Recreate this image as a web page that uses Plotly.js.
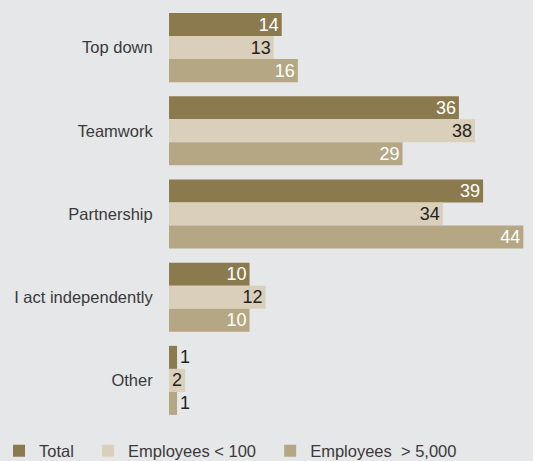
<!DOCTYPE html>
<html>
<head>
<meta charset="utf-8">
<script src="https://cdn.plot.ly/plotly-3.0.1.min.js"></script>
<style>html,body{margin:0;padding:0;background:#e6e7e9;}#chart{width:533px;height:461px;}</style>
</head>
<body>
<div id="chart"></div>
<script>
const categories = ["Top down", "Teamwork", "Partnership", "I act independently", "Other"];
const seriesNames = ["Total\u00a0\u00a0", "Employees &lt; 100\u00a0\u00a0", "Employees\u00a0 &gt; 5,000"];
const totalValues = [14, 36, 39, 10, 1];
const smallValues = [13, 38, 34, 12, 2];
const largeValues = [16, 29, 44, 10, 1];

const colors = ["#8c7a4f", "#dacfba", "#b5a783"];
const insideColors = ["#ffffff", "#231f20", "#ffffff"];
const allValues = [totalValues, smallValues, largeValues];

const traces = allValues.map((vals, i) => ({
  type: "bar",
  orientation: "h",
  name: seriesNames[i],
  y: categories,
  x: vals,
  text: vals.map(String),
  textposition: "auto",
  insidetextanchor: "end",
  constraintext: "none",
  cliponaxis: false,
  textangle: 0,
  insidetextfont: {family: "Liberation Sans, Arial, sans-serif", size: 18, color: insideColors[i]},
  outsidetextfont: {family: "Liberation Sans, Arial, sans-serif", size: 18, color: "#231f20"},
  marker: {color: colors[i], line: {width: 0}},
  hoverinfo: "none"
}));

const labelFont = {family: "Liberation Sans, Arial, sans-serif", size: 16.5, color: "#3a3a3a"};

const layout = {
  width: 533,
  height: 461,
  paper_bgcolor: "#e6e7e9",
  plot_bgcolor: "#e6e7e9",
  margin: {l: 169, r: 0, t: 6, b: 39, pad: 0, autoexpand: false},
  barmode: "group",
  bargap: 0.17,
  bargroupgap: 0,
  showlegend: true,
  legend: {
    orientation: "h",
    x: -0.467, xanchor: "left",
    y: -0.07, yanchor: "middle",
    font: labelFont,
    bgcolor: "rgba(0,0,0,0)",
    itemclick: false,
    traceorder: "normal"
  },
  xaxis: {
    range: [0, 45.2],
    visible: false,
    fixedrange: true
  },
  yaxis: {
    autorange: "reversed",
    showgrid: false,
    zeroline: false,
    showline: false,
    ticks: "outside",
    ticklen: 12,
    tickcolor: "rgba(0,0,0,0)",
    tickfont: labelFont,
    fixedrange: true
  }
};

Plotly.newPlot("chart", traces, layout, {displayModeBar: false, staticPlot: true});
</script>
</body>
</html>
